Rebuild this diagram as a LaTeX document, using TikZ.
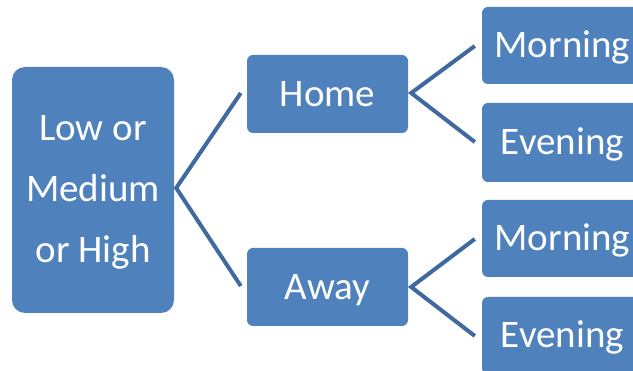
\documentclass[tikz,border=0pt]{standalone}
\usepackage{fontspec}
\setmainfont{Carlito}
\definecolor{boxblue}{HTML}{4F81BD}
\definecolor{linkblue}{HTML}{4069A0}
\begin{document}
\begin{tikzpicture}[x=1pt,y=-1pt,
  box/.style={fill=boxblue, draw=none, rounded corners=6pt, text=white,
    font=\fontsize{39}{61}\selectfont, align=center,
    text height=25pt, text depth=0pt, inner sep=0pt,
    minimum width=161pt, minimum height=77pt},
  bigbox/.style={fill=boxblue, draw=none, rounded corners=13pt, text=white,
    font=\fontsize{39}{61}\selectfont, align=center, inner sep=0pt,
    text depth=2pt, minimum width=162pt, minimum height=246pt},
  link/.style={draw=linkblue, line width=4pt}]
\useasboundingbox (0,0) rectangle (633,371);
\clip (0,0) rectangle (633,371);
\fill[white] (0,0) rectangle (633,371);
\node[bigbox] (lmh) at (93,190) {Low or\\Medium\\or High};
\node[box, minimum height=78pt] (home) at (327.5,94) {Home};
\node[box, minimum height=78pt] (away) at (327.5,287) {Away};
\node[box] (m1) at (562.5,45.5) {Morning};
\node[box, minimum height=79pt] (e1) at (562.5,142.5) {Evening};
\node[box] (m2) at (562.5,238.5) {Morning};
\node[box] (e2) at (562.5,335.5) {Evening};
% connector anchor points
\coordinate (l0) at ([xshift=2pt,yshift=2pt]lmh.east);
\coordinate (lh) at ([xshift=-6pt,yshift=1pt]home.west);
\coordinate (la) at ([xshift=-6pt,yshift=1pt]away.west);
\coordinate (h0) at ([xshift=3pt,yshift=1pt]home.east);
\coordinate (hm) at ([xshift=-7pt,yshift=-0.5pt]m1.west);
\coordinate (he) at ([xshift=-7pt,yshift=0.5pt]e1.west);
\coordinate (a0) at ([xshift=3pt]away.east);
\coordinate (am) at ([xshift=-7pt,yshift=-0.5pt]m2.west);
\coordinate (ae) at ([xshift=-7pt,yshift=-0.5pt]e2.west);
\draw[link] (lh) -- (l0) -- (la);
\draw[link] (hm) -- (h0) -- (he);
\draw[link] (am) -- (a0) -- (ae);
\end{tikzpicture}
\end{document}
